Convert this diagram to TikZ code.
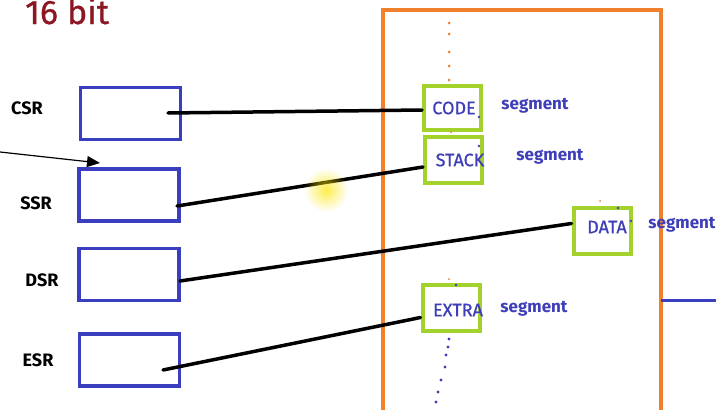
\documentclass[tikz,border=0pt]{standalone}
\usepackage{fontspec}
\setmainfont{Fira Sans}
\newfontfamily\medfira[FakeBold=0.7]{Fira Sans}
\usetikzlibrary{calc,arrows.meta,fadings}
\tikzfading[name=glowfade, inner color=transparent!0, outer color=transparent!100]
\definecolor{regblue}{RGB}{58,62,190}
\definecolor{seggreen}{RGB}{164,210,44}
\definecolor{memorange}{RGB}{240,128,44}
\definecolor{titlered}{RGB}{140,22,34}
\definecolor{txtblue}{RGB}{62,62,185}
\begin{document}
\begin{tikzpicture}[x=1pt,y=-1pt,
  reg/.style={draw=regblue,line width=3.5pt,minimum width=100pt,minimum height=52pt,inner sep=0pt},
  segbox/.style={draw=seggreen,line width=4pt,minimum width=57pt,minimum height=46pt,inner sep=0pt},
  reglabel/.style={font=\fontsize{18}{20}\selectfont\bfseries,text=black,inner sep=0pt},
  segname/.style={font=\medfira\fontsize{18}{20}\selectfont,text=txtblue,inner sep=0pt},
  segword/.style={font=\fontsize{17}{19}\selectfont\bfseries,text=txtblue,inner sep=0pt},
  conn/.style={draw=black,line width=3.5pt,line cap=round},
  odot/.style={fill=memorange},
  bdot/.style={fill=txtblue}]
\clip (0,0) rectangle (716,410);
\fill[white] (0,0) rectangle (716,410);

% title
\node[anchor=base west,inner sep=0pt,text=titlered,font=\medfira\fontsize{34}{38}\selectfont] (title) at (25,24) {16 bit};

% memory (orange frame)
\coordinate (mbl) at (383,420);
\coordinate (mtl) at (383,10);
\coordinate (mtr) at (661,10);
\coordinate (mbr) at (661,420);
\draw[memorange,line width=4pt] (mbl) -- (mtl) -- (mtr) -- (mbr);

% registers
\node[reg] (csr) at (130.5,113.5) {};
\node[reg] (ssr) at (129,195) {};
\node[reg] (dsr) at (129,274.5) {};
\node[reg] (esr) at (129.5,360) {};
\node[reglabel] (csrl) at (27,108) {CSR};
\node[reglabel] (ssrl) at (36,203) {SSR};
\node[reglabel] (dsrl) at (42,280) {DSR};
\node[reglabel] (esrl) at (38,360) {ESR};

% pointer arrow
\coordinate (arrs) at (0,152);
\coordinate (arre) at (100,163);
\draw[line width=1.2pt,-{Triangle[length=13pt,width=11pt]}] (arrs) -- (arre);

% segment boxes
\node[segbox,minimum height=44pt] (code) at (452.5,108) {};
\node[segbox] (stack) at (453.5,160) {};
\node[segbox] (data) at (602,230.5) {};
\node[segbox] (extra) at (451,307.5) {};

% dots
\foreach \y in {23,34,52,66,80} \fill[odot] (449,\y) circle (1.5pt);
\fill[odot] (451,132) circle (1pt);
\fill[odot] (600,201) circle (1pt);
\fill[odot] (449,279) circle (1pt);
\foreach \p in {(449,339),(448,347),(446,355),(445,367),(441,380),(438,392),(436,402)} \fill[bdot] \p circle (1.6pt);
\fill[bdot] (479,117) circle (1.3pt);
\fill[bdot] (479,146) circle (1.3pt);
\fill[bdot] (618,208) circle (1.3pt);
\fill[bdot] (631,221) circle (1.3pt);
\fill[bdot] (456,285) circle (1.3pt);

% connectors
\coordinate (csrp) at (168,113);
\coordinate (ssrp) at (177,206);
\coordinate (dsrp) at (180,281);
\coordinate (esrp) at (163,370);
\draw[conn] (csrp) -- ($(code.west)+(0,2)$);
\draw[conn] (ssrp) -- ($(stack.west)+(0,7)$);
\draw[conn] (dsrp) -- ($(data.west)+(0,-7)$);
\draw[conn] (esrp) -- ($(extra.west)+(0,10)$);

% texts
\node[segname] (codet) at (454,108) {CODE};
\node[segname] (stackt) at (460,160) {STACK};
\node[segname] (datat) at (607,227) {DATA};
\node[segname] (extrat) at (458,310) {EXTRA};
\node[segword] (codes) at (535,106) {segment};
\node[segword] (stacks) at (550,157) {segment};
\node[segword] (datas) at (682,225) {segment};
\node[segword] (extras) at (534,309) {segment};

% outgoing line at right
\coordinate (outr) at (716,300);
\draw[regblue,line width=3pt] (661,300) -- (outr);

% cursor glow
\fill[yellow!90!orange,opacity=0.7,path fading=glowfade] (326,190) circle (22pt);
\end{tikzpicture}
\end{document}
